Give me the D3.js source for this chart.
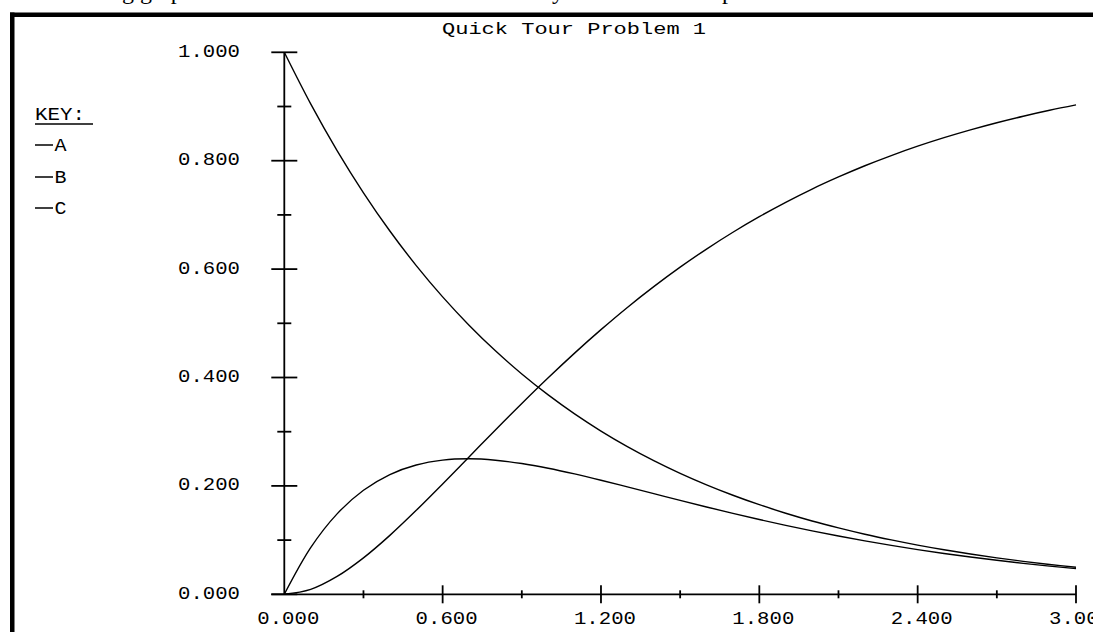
<!DOCTYPE html>
<html>
<head>
<meta charset="utf-8">
<script src="https://cdn.jsdelivr.net/npm/d3@7"></script>
<style>
  html, body { margin: 0; padding: 0; background: #fff; }
  svg { display: block; }
</style>
</head>
<body>
<svg id="chart" width="1093" height="632"></svg>
<script>
// ---- data ----
const title = "Quick Tour Problem 1";
const times = [0.0,0.1,0.2,0.3,0.4,0.5,0.6,0.7,0.8,0.9,1.0,1.1,1.2,1.3,1.4,1.5,1.6,1.7,1.8,1.9,2.0,2.1,2.2,2.3,2.4,2.5,2.6,2.7,2.8,2.9,3.0];
const seriesA = [1.0000,0.9048,0.8187,0.7408,0.6703,0.6065,0.5488,0.4966,0.4493,0.4066,0.3679,0.3329,0.3012,0.2725,0.2466,0.2231,0.2019,0.1827,0.1653,0.1496,0.1353,0.1225,0.1108,0.1003,0.0907,0.0821,0.0743,0.0672,0.0608,0.0550,0.0498];
const seriesB = [0.0000,0.0861,0.1484,0.1920,0.2210,0.2386,0.2476,0.2500,0.2474,0.2413,0.2326,0.2221,0.2105,0.1982,0.1858,0.1733,0.1611,0.1493,0.1380,0.1272,0.1170,0.1075,0.0985,0.0902,0.0825,0.0754,0.0688,0.0627,0.0571,0.0520,0.0473];
const seriesC = [0.0000,0.0091,0.0329,0.0672,0.1087,0.1549,0.2036,0.2534,0.3033,0.3521,0.3995,0.4450,0.4883,0.5293,0.5676,0.6036,0.6370,0.6680,0.6967,0.7232,0.7477,0.7700,0.7907,0.8095,0.8268,0.8425,0.8569,0.8701,0.8821,0.8930,0.9029];
const keyNames = ["A","B","C"];
const xMajorTicks = [0, 0.6, 1.2, 1.8, 2.4, 3.0];
const xMinorTicks = [0.3, 0.9, 1.5, 2.1, 2.7];
const yMajorTicks = [0, 0.2, 0.4, 0.6, 0.8, 1.0];
const yMinorTicks = [0.1, 0.3, 0.5, 0.7, 0.9];
const xTickLabels = ["0.000","0.600","1.200","1.800","2.400","3.000"];
const yTickLabels = ["0.000","0.200","0.400","0.600","0.800","1.000"];

// ---- drawing ----
const svg = d3.select("#chart");
const FONT = "'Liberation Mono', 'DejaVu Sans Mono', monospace";
const x = d3.scaleLinear().domain([0, 3]).range([284.3, 1076]);
const y = d3.scaleLinear().domain([0, 1]).range([594.3, 52.3]);

// clipped line of document text above the frame
const topG = svg.append("g").attr("font-family", "'Liberation Serif', 'DejaVu Serif', serif")
  .attr("font-size", 24).attr("fill", "#000");
topG.append("text").attr("x", 122).attr("y", -1).text("g graph");
topG.append("text").attr("x", 552).attr("y", -1).text("y");
topG.append("text").attr("x", 722).attr("y", -1).text("p");

// frame (left and top thick border)
svg.append("rect").attr("x", 10).attr("y", 12.5).attr("width", 1083).attr("height", 4.5).attr("fill", "#000");
svg.append("rect").attr("x", 10).attr("y", 12.5).attr("width", 4.5).attr("height", 620).attr("fill", "#000");

// title
svg.append("text")
  .attr("x", 442).attr("y", 33.5)
  .attr("font-family", FONT).attr("font-size", 16)
  .attr("textLength", 264).attr("lengthAdjust", "spacingAndGlyphs")
  .text(title);

// axes
const ax = svg.append("g").attr("stroke", "#000").attr("stroke-width", 1.8).attr("fill", "none");
ax.append("line").attr("x1", x(0)).attr("x2", x(0)).attr("y1", y(1)).attr("y2", y(0));
ax.append("line").attr("x1", x(0) - 13).attr("x2", x(3)).attr("y1", y(0)).attr("y2", y(0));

ax.selectAll(".ymaj").data(yMajorTicks).join("line")
  .attr("x1", x(0) - 13).attr("x2", x(0) + 13).attr("y1", d => y(d)).attr("y2", d => y(d));
ax.selectAll(".ymin").data(yMinorTicks).join("line")
  .attr("class", "ymin")
  .attr("x1", x(0) - 7).attr("x2", x(0) + 7).attr("y1", d => y(d)).attr("y2", d => y(d));
ax.selectAll(".xmaj").data(xMajorTicks.slice(1)).join("line")
  .attr("class", "xmaj")
  .attr("x1", d => x(d)).attr("x2", d => x(d)).attr("y1", y(0) - 9).attr("y2", y(0) + 9);
ax.selectAll(".xmin").data(xMinorTicks).join("line")
  .attr("class", "xmin")
  .attr("x1", d => x(d)).attr("x2", d => x(d)).attr("y1", y(0) - 4).attr("y2", y(0) + 4);

// tick labels
const lab = svg.append("g").attr("font-family", FONT).attr("font-size", 18).attr("fill", "#000");
lab.selectAll(".yl").data(yMajorTicks).join("text")
  .attr("class", "yl")
  .attr("x", 178).attr("y", d => y(d) + 4.5)
  .attr("textLength", 62).attr("lengthAdjust", "spacingAndGlyphs")
  .text((d, i) => yTickLabels[i]);
lab.selectAll(".xl").data(xMajorTicks).join("text")
  .attr("class", "xl")
  .attr("x", d => x(d) - 27).attr("y", 623.5)
  .attr("textLength", 62).attr("lengthAdjust", "spacingAndGlyphs")
  .text((d, i) => xTickLabels[i]);

// curves
const line = d3.line().x(d => x(d[0])).y(d => y(d[1])).curve(d3.curveCatmullRom);
[seriesA, seriesB, seriesC].forEach(s => {
  svg.append("path")
    .datum(times.map((t, i) => [t, s[i]]))
    .attr("d", line)
    .attr("fill", "none").attr("stroke", "#000").attr("stroke-width", 1.4);
});

// key
const key = svg.append("g").attr("font-family", FONT).attr("font-size", 18).attr("fill", "#000");
key.append("text").attr("x", 35).attr("y", 119.5)
  .attr("textLength", 50).attr("lengthAdjust", "spacingAndGlyphs").text("KEY:");
key.append("line").attr("x1", 35).attr("x2", 93).attr("y1", 124).attr("y2", 124)
  .attr("stroke", "#000").attr("stroke-width", 1.5);
const keyY = [145, 177, 208];
keyNames.forEach((n, i) => {
  key.append("line").attr("x1", 35).attr("x2", 53).attr("y1", keyY[i]).attr("y2", keyY[i])
    .attr("stroke", "#000").attr("stroke-width", 1.5);
  key.append("text").attr("x", 54.5).attr("y", keyY[i] + 6.2)
    .attr("textLength", 12).attr("lengthAdjust", "spacingAndGlyphs").text(n);
});
</script>
</body>
</html>
